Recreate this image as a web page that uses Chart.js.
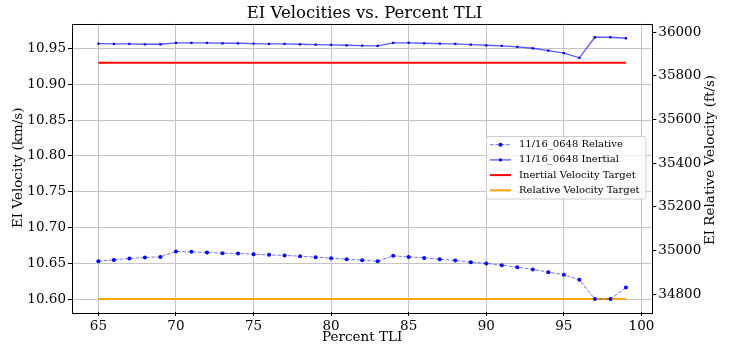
<!DOCTYPE html>
<html>
<head>
<meta charset="utf-8">
<script src="https://cdn.jsdelivr.net/npm/chart.js@4.4.1/dist/chart.umd.min.js"></script>
<style>
  html, body { margin: 0; padding: 0; background: #fff; }
  canvas { display: block; }
</style>
</head>
<body>
<canvas id="chart" width="729" height="347"></canvas>
<script>
// Percent TLI (x) and velocities in km/s
const tli = [65, 66, 67, 68, 69, 70, 71, 72, 73, 74, 75, 76, 77, 78, 79, 80, 81, 82,
             83, 84, 85, 86, 87, 88, 89, 90, 91, 92, 93, 94, 95, 96, 97, 98, 99];
const relativeVel = [10.653, 10.6548, 10.6568, 10.6582, 10.659, 10.6665, 10.666, 10.665,
                     10.6642, 10.6637, 10.6628, 10.6618, 10.661, 10.660, 10.6586, 10.6572,
                     10.6558, 10.6544, 10.653, 10.6604, 10.659, 10.6576, 10.6558, 10.654,
                     10.6516, 10.6498, 10.6474, 10.6446, 10.6414, 10.6377, 10.6339, 10.6269,
                     10.600, 10.600, 10.6163];
const inertialVel = [10.957, 10.9566, 10.9566, 10.956, 10.956, 10.958, 10.958, 10.958,
                     10.9574, 10.9574, 10.957, 10.9566, 10.9566, 10.956, 10.9556, 10.9552,
                     10.9546, 10.9542, 10.9538, 10.958, 10.958, 10.9574, 10.957, 10.9566,
                     10.9556, 10.9546, 10.9538, 10.9524, 10.9504, 10.9472, 10.9435, 10.937,
                     10.9658, 10.9658, 10.9644];
const inertialTarget = 10.93;
const relativeTarget = 10.60;

const xTicks = [65, 70, 75, 80, 85, 90, 95, 100];
const yTicks = [10.60, 10.65, 10.70, 10.75, 10.80, 10.85, 10.90, 10.95];
const y2Ticks = [34800, 35000, 35200, 35400, 35600, 35800, 36000];

const KM_TO_FT = 1 / 0.0003048;
const yMin = 10.582, yMax = 10.985;
const FONT = "'DejaVu Serif', serif";

Chart.defaults.font.family = FONT;
Chart.defaults.color = "#000";

function pts(ys) {
  return tli.map((x, i) => ({ x: x, y: ys[i] }));
}
function flat(v) {
  return [{ x: tli[0], y: v }, { x: tli[tli.length - 1], y: v }];
}

// black box round the plot area
const framePlugin = {
  id: "frame",
  afterDatasetsDraw(chart) {
    const a = chart.chartArea, ctx = chart.ctx;
    ctx.save();
    ctx.strokeStyle = "#000";
    ctx.lineWidth = 1;
    ctx.strokeRect(Math.round(a.left) + 0.5, Math.round(a.top) + 0.5,
                   Math.round(a.right - a.left), Math.round(a.bottom - a.top));
    ctx.restore();
  }
};

// right axis title reads bottom-to-top like matplotlib
const rightTitlePlugin = {
  id: "rightTitle",
  afterDraw(chart) {
    const ctx = chart.ctx;
    ctx.save();
    ctx.translate(710, 160);
    ctx.rotate(-Math.PI / 2);
    ctx.font = "13.5px " + FONT;
    ctx.fillStyle = "#000";
    ctx.textAlign = "center";
    ctx.textBaseline = "middle";
    ctx.fillText("EI Relative Velocity (ft/s)", 0, 0);
    ctx.restore();
  }
};

// legend box inside the plot, center right
const legendPlugin = {
  id: "boxLegend",
  afterDraw(chart) {
    const ctx = chart.ctx;
    const ds = chart.data.datasets;
    ctx.save();
    ctx.beginPath();
    ctx.roundRect(486.5, 136.5, 159.5, 62.5, 2);
    ctx.fillStyle = "rgba(255,255,255,0.8)";
    ctx.fill();
    ctx.strokeStyle = "#cccccc";
    ctx.lineWidth = 1;
    ctx.stroke();
    ds.forEach((d, i) => {
      const y = 144.7 + i * 15.2;
      ctx.beginPath();
      ctx.setLineDash(d.borderDash || []);
      ctx.strokeStyle = d.borderColor;
      ctx.lineWidth = d.borderWidth;
      ctx.moveTo(490, y);
      ctx.lineTo(511, y);
      ctx.stroke();
      ctx.setLineDash([]);
      if (d.pointRadius > 0) {
        ctx.fillStyle = d.pointBackgroundColor;
        ctx.beginPath();
        ctx.arc(500.5, y, d.pointRadius, 0, Math.PI * 2);
        ctx.fill();
      }
      ctx.fillStyle = "#000";
      ctx.font = "10px " + FONT;
      ctx.textAlign = "left";
      ctx.textBaseline = "middle";
      ctx.fillText(d.label, 519, y);
    });
    ctx.restore();
  }
};

const gridColor = "#c4c4c4";

new Chart(document.getElementById("chart"), {
  type: "line",
  data: {
    datasets: [
      {
        label: "11/16_0648 Relative",
        data: pts(relativeVel),
        borderColor: "rgba(0,0,255,0.55)",
        borderWidth: 1,
        borderDash: [3.7, 1.6],
        pointRadius: 2,
        pointBackgroundColor: "#0000ff",
        pointBorderWidth: 0,
        tension: 0
      },
      {
        label: "11/16_0648 Inertial",
        data: pts(inertialVel),
        borderColor: "rgba(0,0,255,0.65)",
        borderWidth: 1.3,
        pointRadius: 1.6,
        pointStyle: "rect",
        pointBackgroundColor: "#0000ff",
        pointBorderWidth: 0,
        tension: 0
      },
      {
        label: "Inertial Velocity Target",
        data: flat(inertialTarget),
        borderColor: "#ff0000",
        borderWidth: 2,
        pointRadius: 0
      },
      {
        label: "Relative Velocity Target",
        data: flat(relativeTarget),
        borderColor: "#ffa500",
        borderWidth: 2,
        pointRadius: 0
      }
    ]
  },
  options: {
    responsive: false,
    animation: false,
    devicePixelRatio: 1,
    layout: { padding: 0 },
    plugins: {
      legend: { display: false },
      tooltip: { enabled: false },
      title: {
        display: true,
        text: "EI Velocities vs. Percent TLI",
        font: { size: 16.5, weight: "normal" },
        color: "#000",
        padding: { top: 3.4, bottom: 0.3 }
      }
    },
    scales: {
      x: {
        type: "linear",
        min: 63.3,
        max: 100.7,
        afterBuildTicks: (s) => { s.ticks = xTicks.map(v => ({ value: v })); },
        afterFit: (s) => { s.height = 35; },
        ticks: { font: { size: 13.5 }, color: "#000", padding: 2, autoSkip: false, maxRotation: 0 },
        grid: { color: gridColor, lineWidth: 1, tickColor: "#000", tickLength: 4 },
        border: { display: false },
        title: { display: true, text: "Percent TLI", font: { size: 13.5 }, color: "#000",
                 padding: { top: 0, bottom: 1.2 } }
      },
      y: {
        position: "left",
        min: yMin,
        max: yMax,
        afterBuildTicks: (s) => { s.ticks = yTicks.map(v => ({ value: v })); },
        afterFit: (s) => { s.width = 72; },
        ticks: { font: { size: 13.5 }, color: "#000", padding: 2, autoSkip: false,
                 callback: (v) => v.toFixed(2) },
        grid: { color: gridColor, lineWidth: 1, tickColor: "#000", tickLength: 4 },
        border: { display: false },
        title: { display: true, text: "EI Velocity (km/s)", font: { size: 13.5 }, color: "#000",
                 padding: { top: 10, bottom: 0 } }
      },
      y2: {
        position: "right",
        min: yMin * KM_TO_FT,
        max: yMax * KM_TO_FT,
        afterBuildTicks: (s) => { s.ticks = y2Ticks.map(v => ({ value: v })); },
        afterFit: (s) => { s.width = 76.7; },
        ticks: { font: { size: 13.5 }, color: "#000", padding: 2, autoSkip: false,
                 callback: (v) => String(v) },
        grid: { drawOnChartArea: false, tickColor: "#000", tickLength: 4 },
        border: { display: false }
      }
    }
  },
  plugins: [framePlugin, legendPlugin, rightTitlePlugin]
});
</script>
</body>
</html>
